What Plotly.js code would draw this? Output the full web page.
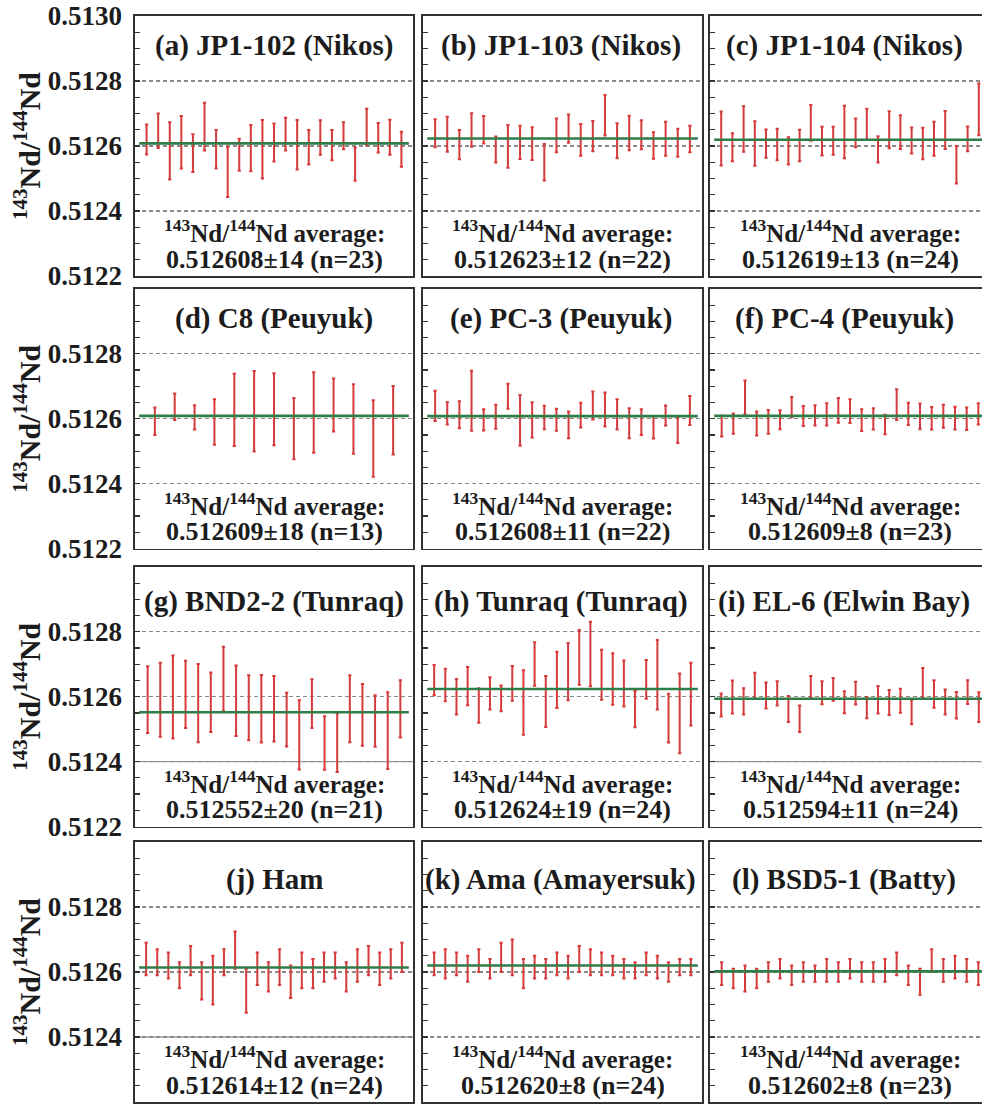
<!DOCTYPE html>
<html><head><meta charset="utf-8">
<script src="https://cdn.plot.ly/plotly-3.0.1.min.js"></script>
<style>html,body{margin:0;padding:0;overflow:hidden;background:#fff}#chart{width:992px;height:1108px}</style>
</head><body><div id="chart"></div>
<script>
// ---- data ----
const panelTitles = ["(a) JP1-102 (Nikos)","(b) JP1-103 (Nikos)","(c) JP1-104 (Nikos)",
  "(d) C8 (Peuyuk)","(e) PC-3 (Peuyuk)","(f) PC-4 (Peuyuk)",
  "(g) BND2-2 (Tunraq)","(h) Tunraq (Tunraq)","(i) EL-6 (Elwin Bay)",
  "(j) Ham","(k) Ama (Amayersuk)","(l) BSD5-1 (Batty)"];
const avgValues = [0.512608,0.512623,0.512619,0.512609,0.512608,0.512609,0.512552,0.512624,0.512594,0.512614,0.512620,0.512602];
const avgErrs = [14,12,13,18,11,8,20,19,11,12,8,8];
const tickValsTop = [0.5122,0.5124,0.5126,0.5128,0.5130];
const tickValsRest = [0.5122,0.5124,0.5126,0.5128];
const tickTextTop = ["0.5122","0.5124","0.5126","0.5128","0.5130"];
const tickTextRest = ["0.5122","0.5124","0.5126","0.5128"];
const solidLowPanels = [6,8,9];

const a_hi=[0.512666,0.512700,0.512673,0.512692,0.512636,0.512733,0.512649,0.512598,0.512622,0.512665,0.512680,0.512669,0.512687,0.512680,0.512649,0.512679,0.512649,0.512673,0.512595,0.512715,0.512671,0.512681,0.512644];
const a_lo=[0.512574,0.512594,0.512497,0.512531,0.512520,0.512586,0.512531,0.512443,0.512524,0.512522,0.512500,0.512552,0.512586,0.512528,0.512543,0.512573,0.512556,0.512590,0.512493,0.512602,0.512580,0.512573,0.512536];
const b_hi=[0.512682,0.512690,0.512649,0.512701,0.512692,0.512629,0.512665,0.512662,0.512658,0.512606,0.512685,0.512697,0.512668,0.512677,0.512757,0.512670,0.512693,0.512679,0.512642,0.512675,0.512653,0.512662];
const b_lo=[0.512596,0.512582,0.512559,0.512598,0.512608,0.512549,0.512533,0.512560,0.512557,0.512494,0.512581,0.512610,0.512570,0.512584,0.512632,0.512562,0.512587,0.512590,0.512561,0.512570,0.512567,0.512581];
const c_hi=[0.512706,0.512639,0.512722,0.512676,0.512651,0.512653,0.512627,0.512650,0.512726,0.512659,0.512659,0.512724,0.512685,0.512715,0.512630,0.512707,0.512695,0.512657,0.512656,0.512675,0.512708,0.512600,0.512660,0.512792];
const c_lo=[0.512540,0.512553,0.512582,0.512539,0.512564,0.512556,0.512543,0.512553,0.512616,0.512571,0.512573,0.512562,0.512596,0.512620,0.512549,0.512593,0.512591,0.512577,0.512559,0.512570,0.512591,0.512485,0.512584,0.512633];
const d_hi=[0.512635,0.512678,0.512642,0.512660,0.512739,0.512747,0.512740,0.512664,0.512743,0.512724,0.512706,0.512657,0.512701];
const d_lo=[0.512550,0.512596,0.512567,0.512520,0.512516,0.512499,0.512518,0.512475,0.512495,0.512561,0.512492,0.512421,0.512490];
const e_hi=[0.512686,0.512651,0.512654,0.512748,0.512629,0.512643,0.512708,0.512673,0.512651,0.512640,0.512631,0.512622,0.512649,0.512684,0.512681,0.512660,0.512632,0.512629,0.512608,0.512641,0.512605,0.512670];
const e_lo=[0.512593,0.512582,0.512571,0.512563,0.512564,0.512569,0.512631,0.512517,0.512542,0.512568,0.512563,0.512540,0.512573,0.512598,0.512576,0.512567,0.512540,0.512550,0.512539,0.512579,0.512525,0.512581];
const f_hi=[0.512609,0.512616,0.512718,0.512622,0.512627,0.512626,0.512667,0.512639,0.512642,0.512648,0.512664,0.512660,0.512629,0.512632,0.512612,0.512691,0.512649,0.512647,0.512636,0.512643,0.512637,0.512635,0.512648];
const f_lo=[0.512545,0.512554,0.512614,0.512548,0.512554,0.512568,0.512605,0.512578,0.512579,0.512579,0.512588,0.512587,0.512562,0.512567,0.512552,0.512596,0.512581,0.512568,0.512567,0.512572,0.512567,0.512565,0.512582];
const g_hi=[0.512694,0.512705,0.512727,0.512711,0.512701,0.512675,0.512754,0.512696,0.512666,0.512667,0.512664,0.512612,0.512589,0.512654,0.512540,0.512549,0.512666,0.512639,0.512605,0.512614,0.512651];
const g_lo=[0.512488,0.512477,0.512471,0.512504,0.512460,0.512491,0.512555,0.512479,0.512466,0.512459,0.512462,0.512447,0.512376,0.512504,0.512375,0.512368,0.512460,0.512449,0.512446,0.512377,0.512474];
const h_hi=[0.512698,0.512686,0.512655,0.512692,0.512626,0.512660,0.512635,0.512695,0.512682,0.512768,0.512664,0.512739,0.512766,0.512806,0.512831,0.512745,0.512734,0.512712,0.512618,0.512713,0.512775,0.512609,0.512672,0.512705];
const h_lo=[0.512605,0.512586,0.512545,0.512574,0.512520,0.512561,0.512555,0.512588,0.512483,0.512634,0.512507,0.512565,0.512589,0.512637,0.512632,0.512591,0.512575,0.512570,0.512506,0.512594,0.512561,0.512459,0.512426,0.512511];
const i_hi=[0.512610,0.512650,0.512626,0.512674,0.512644,0.512648,0.512602,0.512573,0.512664,0.512648,0.512658,0.512617,0.512646,0.512599,0.512633,0.512621,0.512625,0.512590,0.512689,0.512651,0.512622,0.512615,0.512651,0.512614];
const i_lo=[0.512539,0.512548,0.512545,0.512595,0.512564,0.512573,0.512522,0.512491,0.512597,0.512577,0.512588,0.512549,0.512576,0.512534,0.512548,0.512544,0.512551,0.512515,0.512597,0.512566,0.512545,0.512533,0.512578,0.512522];
const j_hi=[0.512690,0.512670,0.512660,0.512630,0.512680,0.512630,0.512650,0.512670,0.512725,0.512610,0.512660,0.512630,0.512670,0.512620,0.512660,0.512640,0.512660,0.512660,0.512630,0.512670,0.512680,0.512660,0.512670,0.512690];
const j_lo=[0.512590,0.512590,0.512580,0.512550,0.512590,0.512515,0.512500,0.512590,0.512610,0.512475,0.512560,0.512540,0.512560,0.512520,0.512550,0.512550,0.512570,0.512580,0.512540,0.512570,0.512590,0.512560,0.512580,0.512600];
const k_hi=[0.512660,0.512670,0.512660,0.512650,0.512670,0.512640,0.512690,0.512700,0.512640,0.512650,0.512640,0.512660,0.512650,0.512680,0.512670,0.512660,0.512650,0.512640,0.512630,0.512660,0.512650,0.512630,0.512640,0.512640];
const k_lo=[0.512590,0.512580,0.512590,0.512570,0.512600,0.512580,0.512600,0.512590,0.512550,0.512580,0.512580,0.512590,0.512580,0.512600,0.512590,0.512590,0.512590,0.512580,0.512580,0.512590,0.512580,0.512570,0.512590,0.512590];
const l_hi=[0.512630,0.512610,0.512620,0.512610,0.512630,0.512640,0.512620,0.512630,0.512620,0.512640,0.512630,0.512640,0.512630,0.512630,0.512640,0.512660,0.512620,0.512610,0.512670,0.512640,0.512650,0.512640,0.512630];
const l_lo=[0.512560,0.512550,0.512540,0.512550,0.512570,0.512580,0.512560,0.512570,0.512570,0.512570,0.512570,0.512580,0.512570,0.512570,0.512570,0.512590,0.512560,0.512530,0.512600,0.512570,0.512580,0.512570,0.512560];

const highs=[a_hi,b_hi,c_hi,d_hi,e_hi,f_hi,g_hi,h_hi,i_hi,j_hi,k_hi,l_hi];
const lows=[a_lo,b_lo,c_lo,d_lo,e_lo,f_lo,g_lo,h_lo,i_lo,j_lo,k_lo,l_lo];

// ---- layout geometry (pixels) ----
const W=992, H=1108;
const cols=[[135,413],[423,702],[710,990]];
const rows=[[16,276],[289,548.5],[567,826.5],[842,1102]];
const titleY=[45,318,601,879];
const titleXShift=[0,-2,-6];
const FONT="Liberation Serif, Times New Roman, serif";
const INK='#1c1c1c';
const px=v=>v/W, py=v=>1-v/H;

const data=[]; const layout={width:W,height:H,margin:{l:0,r:0,t:0,b:0},
  paper_bgcolor:'#fff',plot_bgcolor:'#fff',showlegend:false,annotations:[],shapes:[]};

for(let p=0;p<12;p++){
  const r=Math.floor(p/3), c=p%3, k=p+1;
  const xa='x'+(k===1?'':k), ya='y'+(k===1?'':k);
  const hi=highs[p], lo=lows[p], n=hi.length;
  const xs=hi.map((_,i)=>i+1);
  data.push({type:'scatter',mode:'markers',x:xs,y:lo,xaxis:xa,yaxis:ya,
    marker:{size:2,opacity:0},hoverinfo:'skip',
    error_y:{type:'data',symmetric:false,array:hi.map((h,i)=>h-lo[i]),arrayminus:hi.map(()=>0),
      color:'#d63a3a',thickness:2,width:1.6}});
  const xname='xaxis'+(k===1?'':k), yname='yaxis'+(k===1?'':k);
  layout[xname]={domain:[px(cols[c][0]),px(cols[c][1])],anchor:ya,range:[0,n+1],
    showticklabels:false,ticks:'',showgrid:false,zeroline:false,
    showline:true,mirror:true,linecolor:'#333',linewidth:1.6,fixedrange:true};
  const tv=r===0?tickValsTop:tickValsRest, tt=r===0?tickTextTop:tickTextRest;
  layout[yname]={domain:[py(rows[r][1]),py(rows[r][0])],anchor:xa,range:[0.5122,0.5130],
    tickmode:'array',tickvals:tv,ticktext:tt,showticklabels:c===0,
    tickfont:{family:FONT,size:27,color:INK,weight:'bold'},ticklabelstandoff:6,
    ticks:'inside',ticklen:5,tickcolor:'#333',tickwidth:1.2,
    minor:{dtick:0.00005,tick0:0.5122,ticks:'inside',ticklen:5,tickcolor:'#333',tickwidth:1.2,showgrid:false},
    showgrid:true,gridcolor:'#8a8a8a',gridwidth:1.2,griddash:'4px,3px',
    zeroline:false,showline:true,mirror:true,linecolor:'#333',linewidth:1.6,fixedrange:true};
  layout.shapes.push({type:'line',xref:xa+' domain',yref:ya,x0:0.015,x1:0.985,
    y0:avgValues[p],y1:avgValues[p],line:{color:'#2f7d47',width:2.6},layer:'above'});
  if(solidLowPanels.includes(p)){
    layout.shapes.push({type:'line',xref:xa+' domain',yref:ya,x0:0,x1:1,
      y0:tickValsRest[1],y1:tickValsRest[1],line:{color:'#a0a0a0',width:1.3},layer:'below'});
  }
  const cx=(cols[c][0]+cols[c][1])/2;
  layout.annotations.push({xref:'paper',yref:'paper',x:px(cx+titleXShift[c]),y:py(titleY[r]),
    xanchor:'center',yanchor:'middle',showarrow:false,text:panelTitles[p],
    font:{family:FONT,size:29,color:INK,weight:'bold'}});
  layout.annotations.push({xref:'paper',yref:'paper',x:px(cx),y:py(rows[r][1]-45),
    xanchor:'center',yanchor:'middle',showarrow:false,
    text:'<sup>143</sup>Nd/<sup>144</sup>Nd average:',
    font:{family:FONT,size:25,color:INK,weight:'bold'}});
  const val=avgValues[p].toFixed(6);
  layout.annotations.push({xref:'paper',yref:'paper',x:px(cx),y:py(rows[r][1]-17),
    xanchor:'center',yanchor:'middle',showarrow:false,
    text:val+'\u00b1'+avgErrs[p]+' (n='+n+')',
    font:{family:FONT,size:26,color:INK,weight:'bold'}});
}
for(let r=0;r<4;r++){
  layout.annotations.push({xref:'paper',yref:'paper',x:px(27),y:py((rows[r][0]+rows[r][1])/2),
    xanchor:'center',yanchor:'middle',showarrow:false,textangle:-90,
    text:'<sup>143</sup>Nd/<sup>144</sup>Nd',font:{family:FONT,size:30,color:INK,weight:'bold'}});
}
Plotly.newPlot('chart',data,layout,{staticPlot:true,displayModeBar:false});
</script></body></html>
